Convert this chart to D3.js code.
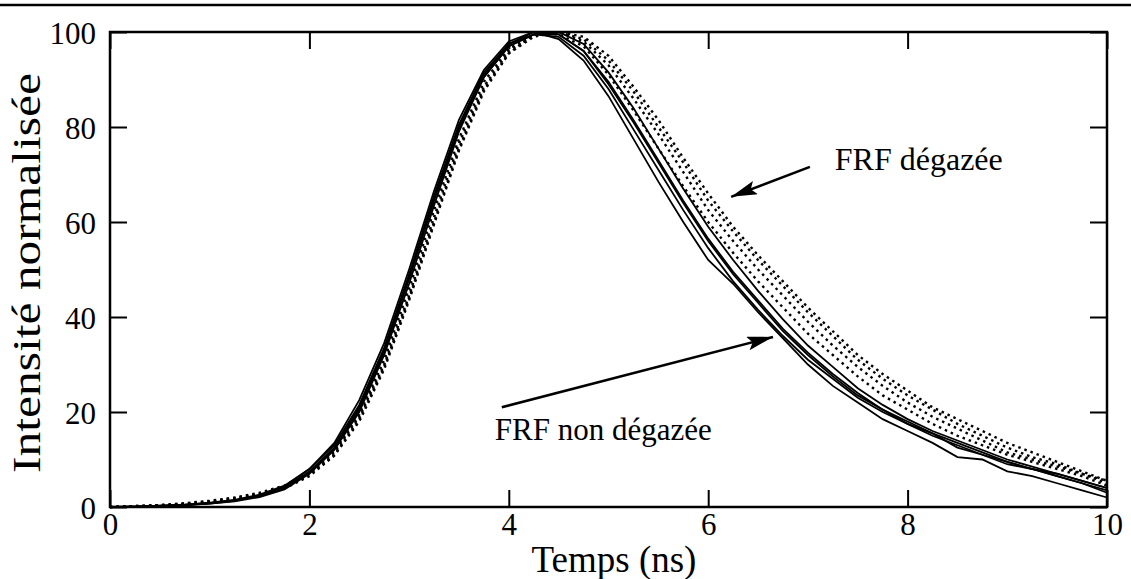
<html>
    <head>
        <script src="https://d3js.org/d3.v7.min.js"></script>
        <style>
            body { margin: 0; background: #fff; }
            .axis .domain { display: none; }
            .axis line { stroke: #000; stroke-width: 2; }
        </style>
    </head>
    <body>
        <svg height="579" width="1131" id="decay">
            <defs>
                <marker id="head" markerUnits="userSpaceOnUse" markerWidth="28" markerHeight="16" refX="26" refY="7" orient="auto">
                    <path d="M 0 0 L 26 7 L 0 14 L 5 7 Z" />
                </marker>
            </defs>
        </svg>

        <script>
            // time grid (ns)
            const times = [0, 0.25, 0.5, 0.75, 1, 1.25, 1.5, 1.75, 2, 2.25, 2.5, 2.75, 3, 3.25, 3.5, 3.75, 4, 4.25, 4.5, 4.75,
                           5, 5.25, 5.5, 5.75, 6, 6.25, 6.5, 6.75, 7, 7.25, 7.5, 7.75, 8, 8.25, 8.5, 8.75, 9, 9.25, 9.5, 9.75, 10];

            // FRF non dégazée (solid)
            const solid1 = [0, 0.1, 0.2, 0.4, 0.7, 1.3, 2.4, 4.3, 8.0, 13.5, 22.5, 34.5, 50, 66.5, 81.5, 92, 98, 100, 98.5, 94,
                            86.5, 77.5, 68.5, 60, 52, 47, 41, 35.5, 30, 25.5, 22, 18.5, 16, 13.5, 10.5, 10, 7.5, 6.5, 5, 3.5, 2.0];
            const solid2 = [0, 0.1, 0.3, 0.5, 0.9, 1.5, 2.6, 4.5, 8.0, 13.0, 21.5, 33.5, 49, 65.5, 80.5, 91.5, 97.5, 99.5, 99, 95,
                            88, 79.5, 71, 62.5, 54.5, 47.5, 41.5, 36, 31, 27, 23, 20, 17.5, 15.5, 12.5, 11, 9, 8, 6.5, 5, 3];
            const solid3 = [0, 0.1, 0.2, 0.4, 0.8, 1.4, 2.4, 4.0, 7.5, 12.5, 21, 33, 48.5, 65, 80, 91, 97.5, 100, 99.5, 96,
                            89, 81, 72.5, 64, 56, 49, 43, 37, 32, 27.5, 23.5, 20.5, 17.5, 15, 13, 11, 9.5, 8, 6.5, 5, 3.5];
            const solid4 = [0, 0, 0.2, 0.4, 0.7, 1.2, 2.1, 3.7, 7.0, 12.0, 20, 32, 47, 63.5, 79, 90.5, 97, 99.5, 100, 97.5,
                            91.5, 84, 75.5, 67, 59, 52, 45.5, 39.5, 34, 29.5, 25, 21.5, 18.5, 16, 14, 12, 10, 8.5, 7, 5.5, 4];
            const solid5 = [0, 0.1, 0.3, 0.5, 0.8, 1.4, 2.3, 4.0, 7.3, 12.2, 20.5, 32.5, 48, 64.5, 79.5, 90.5, 97, 99.5, 99.5, 96,
                            89.5, 81.5, 73, 64.5, 56.5, 49.5, 43.5, 37.5, 32.5, 28, 24, 20.5, 18, 15.5, 13.5, 11.5, 9.5, 8, 7, 5.5, 4];

            // FRF dégazée (dotted)
            const dotted1 = [0, 0.2, 0.4, 0.7, 1.2, 1.9, 2.8, 4.3, 7.0, 11.5, 19, 30, 44.5, 61, 76.5, 88.5, 96, 99.5, 100, 98,
                             93, 86, 78.5, 70.5, 62.5, 56, 50, 44.5, 39, 34, 29.5, 25.5, 22, 19, 16.5, 14, 11.5, 10, 8.5, 7, 5];
            const dotted2 = [0, 0.1, 0.3, 0.6, 1.0, 1.7, 2.6, 4.0, 6.8, 11, 18.5, 29.5, 44, 60, 75.5, 88, 95.5, 99, 100, 99,
                             95, 88.5, 81.5, 73.5, 66, 59, 53, 47.5, 42, 37, 32, 28, 24.5, 21, 18.5, 16, 13.5, 11.5, 9.5, 7.5, 5.5];
            const dotted3 = [0, 0.2, 0.4, 0.8, 1.3, 2.0, 3.0, 4.5, 7.3, 11.8, 19.5, 31, 46, 62.5, 77.5, 89.5, 96.5, 99.5, 99.5, 97,
                             91, 83.5, 75.5, 67.5, 60, 53.5, 47.5, 42, 36.5, 32, 27.5, 23.5, 20.5, 17.5, 15, 13, 11, 9.5, 8, 6.5, 4.5];
            const dotted4 = [0, 0.1, 0.3, 0.5, 0.9, 1.6, 2.5, 3.9, 6.5, 10.8, 18, 29, 43.5, 59.5, 75, 87.5, 95.5, 99.5, 100, 98.5,
                             94, 87.5, 80, 72.5, 64.5, 58, 52, 46.5, 41, 36, 31, 27, 23.5, 20.5, 17.5, 15, 12.5, 10.5, 9, 7, 5.5];

            const xTicks = [0, 2, 4, 6, 8, 10];
            const yTicks = [0, 20, 40, 60, 80, 100];

            const serif = "'Liberation Serif', 'Times New Roman', Tinos, 'DejaVu Serif', serif";

            const svg = d3.select("#decay");
            const width = +svg.attr("width");
            const height = +svg.attr("height");

            let margin = { "top": 32, "right": 24, "bottom": 72, "left": 110 };
            const chartWidth = width - margin.left - margin.right;
            const chartHeight = height - margin.top - margin.bottom;

            let timeScale = d3.scaleLinear().domain([0, 10]).range([0, chartWidth]);
            let intensityScale = d3.scaleLinear().domain([0, 100]).range([chartHeight, 0]);

            // page rule at the very top
            svg.append("line")
                .attr("x1", 0).attr("x2", width)
                .attr("y1", 5).attr("y2", 5)
                .attr("stroke", "#000")
                .attr("stroke-width", 2.5);

            const chart = svg.append("g")
                .attr("transform", `translate(${margin.left},${margin.top})`);

            // axes, ticks pointing inward
            let leftAxis = d3.axisLeft(intensityScale).tickValues(yTicks).tickSize(-17).tickPadding(14);
            chart.append("g").attr("class", "axis")
                .call(leftAxis)
                .call(g => g.selectAll("text")
                    .style("font-family", serif).attr("font-size", 31).attr("fill", "#000").attr("dy", "0.36em"));

            let rightAxis = d3.axisRight(intensityScale).tickValues(yTicks).tickSize(-17).tickFormat("");
            chart.append("g").attr("class", "axis")
                .attr("transform", `translate(${chartWidth},0)`)
                .call(rightAxis);

            let bottomAxis = d3.axisBottom(timeScale).tickValues(xTicks).tickSize(-17).tickPadding(6);
            chart.append("g").attr("class", "axis")
                .attr("transform", `translate(0,${chartHeight})`)
                .call(bottomAxis)
                .call(g => g.selectAll("text")
                    .style("font-family", serif).attr("font-size", 31).attr("fill", "#000").attr("dy", "0.72em"));

            let topAxis = d3.axisTop(timeScale).tickValues(xTicks).tickSize(-17).tickFormat("");
            chart.append("g").attr("class", "axis")
                .call(topAxis);

            // frame
            chart.append("rect")
                .attr("x", 0).attr("y", 0)
                .attr("width", chartWidth).attr("height", chartHeight)
                .attr("fill", "none")
                .attr("stroke", "#000")
                .attr("stroke-width", 2.5);

            let pulse = d3.line()
                .x((d, i) => timeScale(times[i]))
                .y(d => intensityScale(d));

            chart.selectAll("path.solid")
                .data([solid1, solid2, solid3, solid4, solid5])
                .join("path")
                .attr("class", "solid")
                .attr("d", pulse)
                .attr("fill", "none")
                .attr("stroke", "#000")
                .attr("stroke-width", 1.8);

            chart.selectAll("path.dotted")
                .data([dotted1, dotted2, dotted3, dotted4])
                .join("path")
                .attr("class", "dotted")
                .attr("d", pulse)
                .attr("fill", "none")
                .attr("stroke", "#000")
                .attr("stroke-width", 2.4)
                .attr("stroke-dasharray", "2.5,4");

            // annotations
            chart.append("line")
                .attr("x1", timeScale(7.02)).attr("y1", intensityScale(71.6))
                .attr("x2", timeScale(6.23)).attr("y2", intensityScale(65.3))
                .attr("stroke", "#000").attr("stroke-width", 2.5)
                .attr("marker-end", "url(#head)");
            chart.append("text")
                .attr("x", timeScale(7.27)).attr("y", intensityScale(71.0))
                .style("font-family", serif)
                .attr("font-size", 32)
                .text("FRF dégazée");

            chart.append("line")
                .attr("x1", timeScale(3.93)).attr("y1", intensityScale(21.0))
                .attr("x2", timeScale(6.65)).attr("y2", intensityScale(35.8))
                .attr("stroke", "#000").attr("stroke-width", 2.5)
                .attr("marker-end", "url(#head)");
            chart.append("text")
                .attr("x", timeScale(3.86)).attr("y", intensityScale(14.1))
                .style("font-family", serif)
                .attr("font-size", 31)
                .text("FRF non dégazée");

            // axis titles
            svg.append("text")
                .attr("x", 614).attr("y", 572)
                .attr("text-anchor", "middle")
                .style("font-family", serif)
                .attr("font-size", 37)
                .text("Temps (ns)");

            svg.append("text")
                .attr("transform", "translate(40,273) rotate(-90)")
                .attr("text-anchor", "middle")
                .style("font-family", serif)
                .attr("font-size", 40)
                .attr("textLength", 400)
                .attr("lengthAdjust", "spacingAndGlyphs")
                .text("Intensité normalisée");
        </script>
    </body>
</html>
